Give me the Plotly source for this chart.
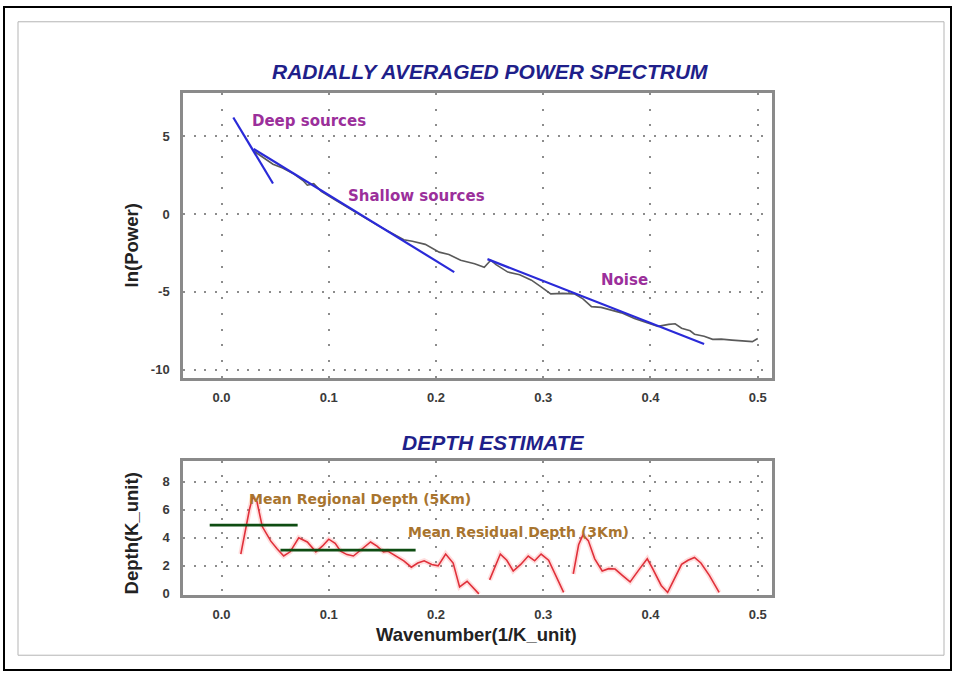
import plotly.graph_objects as go

# ---------------- data ----------------
# Radially averaged power spectrum (observed)
spec_k = [0.030, 0.041, 0.048, 0.057, 0.068, 0.076, 0.080, 0.086, 0.093, 0.105,
          0.118, 0.132, 0.146, 0.158, 0.170, 0.178, 0.190, 0.203, 0.212, 0.223,
          0.236, 0.245, 0.251, 0.256, 0.267, 0.278, 0.289, 0.298, 0.307, 0.318,
          0.329, 0.337, 0.345, 0.354, 0.361, 0.373, 0.385, 0.396, 0.407, 0.417,
          0.423, 0.429, 0.437, 0.441, 0.450, 0.458, 0.466, 0.476, 0.485, 0.495, 0.500]
spec_lnp = [4.05, 3.50, 3.20, 2.95, 2.55, 2.15, 1.85, 1.95, 1.45, 0.95,
            0.40, -0.15, -0.75, -1.20, -1.65, -1.75, -1.95, -2.45, -2.60, -2.97,
            -3.20, -3.42, -2.97, -3.25, -3.73, -3.90, -4.25, -4.68, -5.13, -5.10,
            -5.13, -5.45, -5.95, -6.00, -6.14, -6.35, -6.71, -6.95, -7.22, -7.09,
            -7.05, -7.34, -7.50, -7.72, -7.85, -8.05, -8.04, -8.10, -8.16, -8.20, -8.00]

# Fitted segments
deep_k = [0.011, 0.048]
deep_lnp = [6.20, 1.96]
shallow_k = [0.030, 0.217]
shallow_lnp = [4.18, -3.73]
noise_k = [0.248, 0.450]
noise_lnp = [-2.90, -8.35]

# Depth estimate (None = gap)
depth_k = [0.018, 0.022, 0.026, 0.029, 0.033, 0.038, 0.046, 0.052, 0.058, 0.064,
           0.072, 0.080, 0.088, 0.094, 0.100, 0.106, 0.111, 0.117, 0.123, 0.131,
           0.139, 0.145, 0.151, 0.155, 0.163, 0.170, 0.177, 0.183, 0.189, 0.196,
           0.202, 0.209, 0.216, 0.222, 0.229, 0.240, None,
           0.250, 0.260, 0.266, 0.272, 0.279, 0.286, 0.292, 0.298, 0.305, 0.312, 0.319, None,
           0.328, 0.333, 0.337, 0.342, 0.348, 0.355, 0.361, 0.367, 0.374, 0.381,
           0.390, 0.397, 0.402, 0.410, 0.416, 0.423, 0.429, 0.435, 0.441, 0.447, 0.455, 0.464]
depth_val = [2.84, 4.50, 6.00, 6.90, 6.60, 4.80, 3.76, 3.20, 2.70, 3.00,
             4.00, 3.70, 3.00, 3.40, 3.90, 3.60, 3.05, 2.80, 2.70, 3.20,
             3.70, 3.40, 3.00, 3.05, 2.70, 2.36, 1.90, 2.20, 2.36, 2.10,
             2.00, 2.84, 2.20, 0.50, 0.90, 0.00, None,
             1.00, 2.84, 2.40, 1.63, 2.10, 2.70, 2.36, 2.84, 2.40, 1.30, 0.10, None,
             1.42, 3.50, 4.20, 3.80, 2.50, 1.63, 1.80, 1.77, 1.30, 0.85,
             1.80, 2.50, 1.80, 0.60, 0.10, 1.20, 2.10, 2.40, 2.60, 2.20, 1.30, 0.10]

regional_k = [-0.011, 0.071]
regional_depth = [4.9, 4.9]
residual_k = [0.055, 0.181]
residual_depth = [3.12, 3.12]

x_ticks = [0.0, 0.1, 0.2, 0.3, 0.4, 0.5]
x_ticklabels = ["0.0", "0.1", "0.2", "0.3", "0.4", "0.5"]
top_yticks = [-10, -5, 0, 5]
bot_yticks = [0, 2, 4, 6, 8]

# ---------------- layout helpers ----------------
W, H = 958, 684
ML, MR = 183, 186
PW = W - ML - MR


def fx(px):
    return (px - ML) / PW


def fy(py):
    return 1 - py / H


fig = go.Figure()

BLUE = "#2a2ad8"
GRAY = "#5a5a5a"

fig.add_trace(go.Scatter(x=spec_k, y=spec_lnp, mode="lines",
                         line=dict(color=GRAY, width=1.6), xaxis="x", yaxis="y",
                         showlegend=False, hoverinfo="skip"))
for kx, ky in [(deep_k, deep_lnp), (shallow_k, shallow_lnp), (noise_k, noise_lnp)]:
    fig.add_trace(go.Scatter(x=kx, y=ky, mode="lines",
                             line=dict(color=BLUE, width=2.2), xaxis="x", yaxis="y",
                             showlegend=False, hoverinfo="skip"))

# depth: glow + line
fig.add_trace(go.Scatter(x=depth_k, y=depth_val, mode="lines",
                         line=dict(color="rgba(255,120,120,0.25)", width=5),
                         xaxis="x2", yaxis="y2", showlegend=False, connectgaps=False,
                         hoverinfo="skip"))
fig.add_trace(go.Scatter(x=depth_k, y=depth_val, mode="lines",
                         line=dict(color="#e0303a", width=1.6),
                         xaxis="x2", yaxis="y2", showlegend=False, connectgaps=False,
                         hoverinfo="skip"))
for kx, ky in [(regional_k, regional_depth), (residual_k, residual_depth)]:
    fig.add_trace(go.Scatter(x=kx, y=ky, mode="lines",
                             line=dict(color="#0e4d12", width=2.6),
                             xaxis="x2", yaxis="y2", showlegend=False, hoverinfo="skip"))

tickfont = dict(family="Liberation Sans, Arial", size=13, color="#3a3a3a", weight="bold")
common_x = dict(range=[-0.0359, 0.5133], tickvals=x_ticks, ticktext=x_ticklabels,
                showline=True, mirror=True, linecolor="#8a8a8a", linewidth=2.5,
                showgrid=True, gridcolor="#8c8c8c", gridwidth=1.5,
                zeroline=False, ticks="", tickfont=tickfont, ticklabelstandoff=6)
common_y = dict(showline=True, mirror=True, linecolor="#8a8a8a", linewidth=2.5,
                showgrid=True, gridcolor="#8c8c8c", gridwidth=1.5,
                griddash="2px,8.7px", zeroline=False, ticks="", tickfont=tickfont,
                ticklabelstandoff=8)

fig.update_layout(
    width=W, height=H,
    margin=dict(l=ML, r=MR, t=0, b=0),
    paper_bgcolor="white", plot_bgcolor="white",
    font=dict(family="Liberation Sans, Arial"),
    xaxis=dict(common_x, domain=[0, 1], anchor="y", griddash="2px,13.7px"),
    yaxis=dict(common_y, domain=[fy(382), fy(94)], range=[-10.54, 7.77],
               tickvals=top_yticks, ticktext=[str(v) for v in top_yticks], anchor="x"),
    xaxis2=dict(common_x, domain=[0, 1], anchor="y2", griddash="2px,12.2px"),
    yaxis2=dict(common_y, domain=[fy(601), fy(466)], range=[-0.07, 9.46],
                tickvals=bot_yticks, ticktext=[str(v) for v in bot_yticks], anchor="x2"),
)

title_font = dict(family="Liberation Sans, Arial", size=21, color="#1f1f8a")
lab_font = dict(family="Liberation Sans, Arial", size=18.5, color="#222222")
purple = dict(family="DejaVu Sans, Liberation Sans", size=15, color="#9b2f9b")
brown = dict(family="DejaVu Sans, Liberation Sans", size=14, color="#a8742e")

annos = [
    dict(text="<b><i>RADIALLY AVERAGED POWER SPECTRUM</i></b>", x=fx(490), y=fy(72),
         font=title_font),
    dict(text="<b><i>DEPTH ESTIMATE</i></b>", x=fx(493), y=fy(447), font=title_font),
    dict(text="<b>ln(Power)</b>", x=fx(131), y=fy(248), textangle=-90, font=lab_font),
    dict(text="<b>Depth(K_unit)</b>", x=fx(131), y=fy(539), textangle=-90, font=lab_font),
    dict(text="<b>Wavenumber(1/K_unit)</b>", x=fx(476), y=fy(641), font=lab_font),
]
for a in annos:
    a.update(xref="paper", yref="paper", showarrow=False, xanchor="center", yanchor="middle")
    fig.add_annotation(**a)

data_annos = [
    dict(text="<b>Deep sources</b>", x=0.082, y=5.99, xref="x", yref="y", font=purple),
    dict(text="<b>Shallow sources</b>", x=0.182, y=1.14, xref="x", yref="y", font=purple),
    dict(text="<b>Noise</b>", x=0.376, y=-4.26, xref="x", yref="y", font=purple),
    dict(text="<b>Mean Regional Depth (5Km)</b>", x=0.129, y=6.78, xref="x2", yref="y2", font=brown),
    dict(text="<b>Mean Residual Depth (3Km)</b>", x=0.277, y=4.38, xref="x2", yref="y2", font=brown),
]
for a in data_annos:
    a.update(showarrow=False, xanchor="center", yanchor="middle")
    fig.add_annotation(**a)

# outer frames
fig.add_shape(type="rect", xref="paper", yref="paper", x0=fx(4), x1=fx(951), y0=fy(677), y1=fy(7),
              line=dict(color="black", width=2), layer="below")
fig.add_shape(type="rect", xref="paper", yref="paper", x0=fx(18), x1=fx(944), y0=fy(662), y1=fy(22),
              line=dict(color="#b5b5b5", width=1), layer="below")

fig.write_html("out.html", config={"displayModeBar": False},
               post_script="document.body.style.margin='0';document.body.style.overflow='hidden';")
